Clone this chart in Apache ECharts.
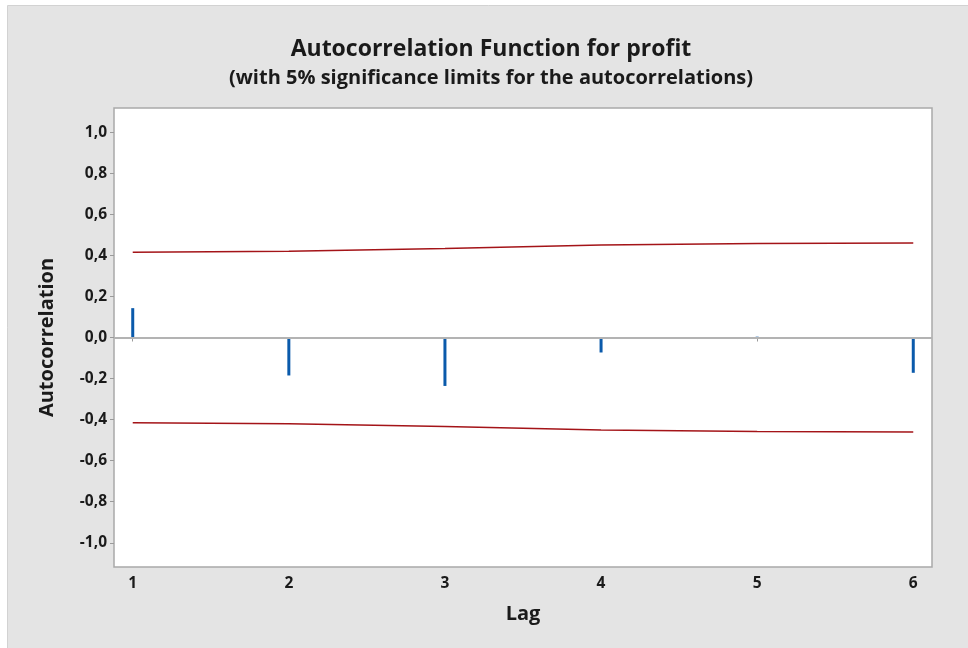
<!DOCTYPE html>
<html>
<head>
<meta charset="utf-8">
<script src="https://cdn.jsdelivr.net/npm/echarts@6/dist/echarts.min.js"></script>
<style>
  html, body { margin: 0; padding: 0; background: #ffffff; }
  #chart { width: 968px; height: 648px; }
</style>
</head>
<body>
<div id="chart"></div>
<script>
// Lags and sample autocorrelations of profit
const lags = [1, 2, 3, 4, 5, 6];
const acfValues = [0.143, -0.185, -0.236, -0.073, 0.004, -0.172];
// 5% significance limits (upper; lower is the mirror image)
const upperLimit = [0.415, 0.420, 0.433, 0.451, 0.458, 0.460];
const lowerLimit = upperLimit.map(v => -v);
const yTicks = [-1.0, -0.8, -0.6, -0.4, -0.2, 0.0, 0.2, 0.4, 0.6, 0.8, 1.0];

const FONT = '"Open Sans", "Noto Sans", sans-serif';
const INK = '#1a1a1a';
const chart = echarts.init(document.getElementById('chart'));

const pair = (xs, ys) => xs.map((x, i) => [x, ys[i]]);

chart.setOption({
  backgroundColor: '#ffffff',
  animation: false,
  graphic: [
    {
      type: 'rect', z: -10, silent: true,
      shape: { x: 7.5, y: 5.5, width: 962, height: 644 },
      style: { fill: '#e4e4e4', stroke: '#d2d2d2', lineWidth: 1 }
    },
    {
      type: 'text', silent: true,
      style: {
        x: 491, y: 49, textAlign: 'center', textVerticalAlign: 'middle',
        text: 'Autocorrelation Function for profit',
        font: 'bold 23px ' + FONT, fill: INK
      }
    },
    {
      type: 'text', silent: true,
      style: {
        x: 491, y: 78, textAlign: 'center', textVerticalAlign: 'middle',
        text: '(with 5% significance limits for the autocorrelations)',
        font: 'bold 20px ' + FONT, fill: INK
      }
    }
  ],
  grid: {
    left: 114, right: 36, top: 108, bottom: 81,
    show: true, backgroundColor: '#ffffff',
    borderColor: '#a9a9a9', borderWidth: 1.5
  },
  xAxis: {
    type: 'value', min: 0.88, max: 6.12,
    name: 'Lag', nameLocation: 'middle', nameGap: 37,
    nameTextStyle: { fontFamily: FONT, fontWeight: 'bold', fontSize: 20, color: INK },
    axisLine: { show: false },
    splitLine: { show: false },
    axisTick: { show: true, length: 4, customValues: lags, lineStyle: { color: '#9a9a9a' } },
    axisLabel: {
      customValues: lags, margin: 9,
      fontFamily: FONT, fontWeight: 'bold', fontSize: 15.5, color: INK
    }
  },
  yAxis: {
    type: 'value', min: -1.118, max: 1.118,
    name: 'Autocorrelation', nameLocation: 'middle', nameGap: 57, nameRotate: 90,
    nameTextStyle: { fontFamily: FONT, fontWeight: 'bold', fontSize: 20, color: INK },
    axisLine: { show: false },
    splitLine: { show: false },
    axisTick: { show: true, length: 4, customValues: yTicks, lineStyle: { color: '#9a9a9a' } },
    axisLabel: {
      customValues: yTicks, margin: 7,
      fontFamily: FONT, fontWeight: 'bold', fontSize: 15.5, color: INK,
      formatter: v => v.toFixed(1).replace('.', ',')
    }
  },
  series: [
    {
      type: 'bar', name: 'ACF', barWidth: 3,
      data: pair(lags, acfValues),
      itemStyle: { color: '#0a5aab' },
      z: 3,
      markLine: {
        silent: true, symbol: 'none', label: { show: false },
        lineStyle: { color: '#b3b3b3', width: 2, type: 'solid' },
        data: [{ yAxis: 0 }]
      }
    },
    {
      type: 'line', name: 'Upper limit', showSymbol: false,
      data: pair(lags, upperLimit),
      lineStyle: { color: '#a41418', width: 1.5 }
    },
    {
      type: 'line', name: 'Lower limit', showSymbol: false,
      data: pair(lags, lowerLimit),
      lineStyle: { color: '#a41418', width: 1.5 }
    }
  ]
});
</script>
</body>
</html>
